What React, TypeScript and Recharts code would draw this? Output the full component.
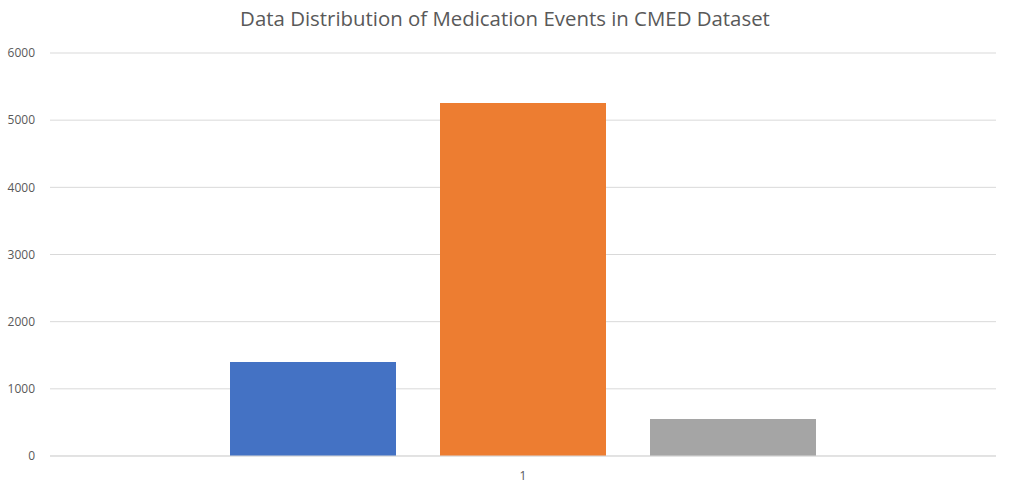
import React from 'react'
import { BarChart, Bar, XAxis, YAxis, CartesianGrid } from 'recharts'

const categories = ['1']
const seriesNames = ['Series1', 'Series2', 'Series3']
const seriesValues = [[1400], [5255], [551]]
const seriesColors = ['#4472C4', '#ED7D31', '#A5A5A5']
const yTicks = [0, 1000, 2000, 3000, 4000, 5000, 6000]

const data = categories.map((c, i) => {
  const row: Record<string, string | number> = { name: c }
  seriesNames.forEach((s, j) => { row[s] = seriesValues[j][i] })
  return row
})

const FONT = "'Open Sans', 'Noto Sans', sans-serif"

export default function App() {
  return (
    <div style={{ position: 'fixed', left: 0, top: 0, width: 1012, height: 487, background: '#fff', fontFamily: FONT }}>
      <div style={{ position: 'absolute', top: 3, left: 0, width: 1010, textAlign: 'center', fontSize: 20.4, lineHeight: '30px', color: '#595959' }}>
        Data Distribution of Medication Events in CMED Dataset
      </div>
      <BarChart
        width={1012}
        height={487}
        data={data}
        margin={{ top: 53, right: 16, bottom: 0, left: 0 }}
        barCategoryGap={180}
        barGap={44}
      >
        <CartesianGrid vertical={false} stroke="#d9d9d9" />
        <XAxis
          dataKey="name"
          height={31}
          stroke="#d9d9d9"
          tickLine={false}
          tickSize={0}
          tickMargin={15}
          tick={{ fill: '#595959', fontSize: 12, fontFamily: FONT }}
        />
        <YAxis
          width={50}
          domain={[0, 6000]}
          ticks={yTicks}
          axisLine={false}
          tickLine={false}
          tickSize={0}
          tickMargin={15}
          tick={{ fill: '#595959', fontSize: 12, fontFamily: FONT }}
        />
        {seriesNames.map((s, i) => (
          <Bar key={s} dataKey={s} fill={seriesColors[i]} isAnimationActive={false} />
        ))}
      </BarChart>
    </div>
  )
}
